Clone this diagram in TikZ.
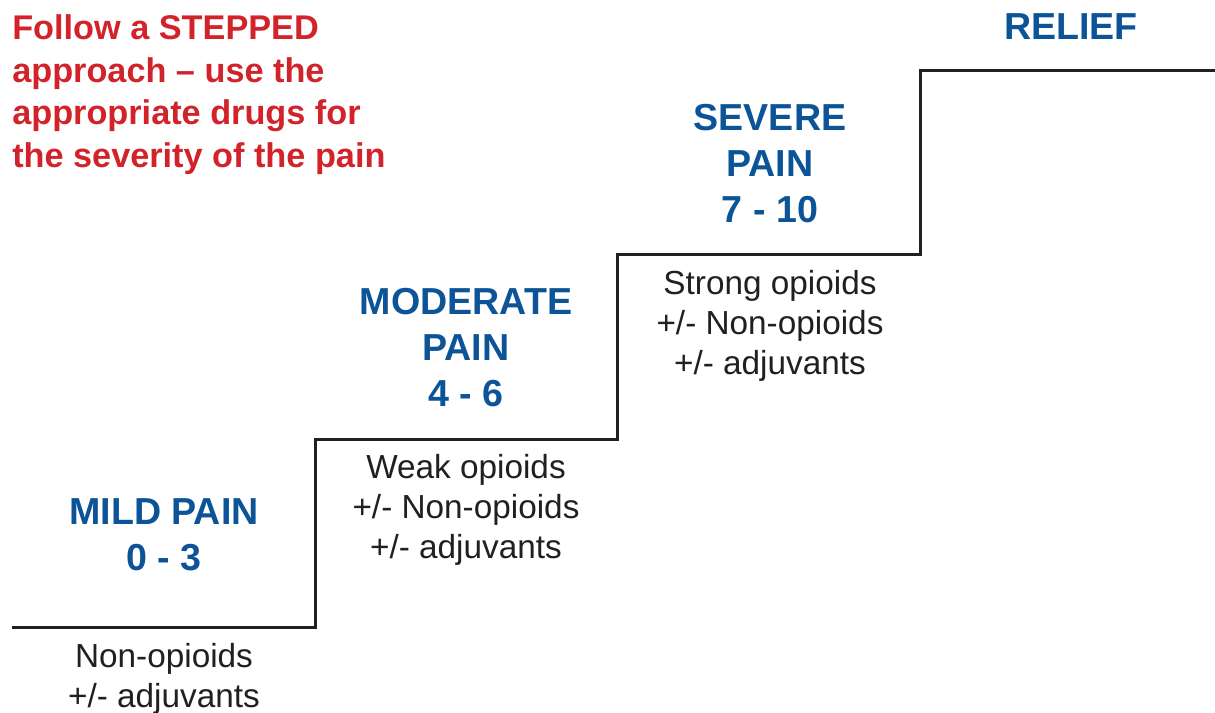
\documentclass[tikz,border=0pt]{standalone}
\usepackage{fontspec}
\setmainfont{Liberation Sans}
\definecolor{stepred}{HTML}{D2232A}
\definecolor{stepblue}{HTML}{0C5497}
\definecolor{stepink}{HTML}{231F20}
\tikzset{
  level/.style={font=\bfseries\fontsize{28.2}{34.5}\selectfont, text=stepblue, align=center, inner sep=0pt},
  drugs/.style={font=\fontsize{25}{30}\selectfont, text=stepink, align=center, inner sep=0pt},
  note/.style={font=\bfseries\fontsize{25.7}{32.2}\selectfont, text=stepred, align=left, inner sep=0pt, anchor=north west},
  stairs/.style={line width=2.25pt, draw=stepink, line join=miter}
}
\begin{document}
\begin{tikzpicture}[x=0.75pt,y=-0.75pt]
\useasboundingbox (0,0) rectangle (1215,713);
\coordinate (s0) at (12,627);
\coordinate (s1) at (315,627);
\coordinate (s2) at (315,439);
\coordinate (s3) at (617,439);
\coordinate (s4) at (617,255);
\coordinate (s5) at (920,255);
\coordinate (s6) at (920,71);
\coordinate (s7) at (1215,71);
\draw[stairs] (s0) -- (s1) -- (s2) -- (s3) -- (s4) -- (s5) -- (s6) -- (s7);

\node[note] (advice) at (12,14) {Follow a STEPPED\\approach -- use the\\appropriate drugs for\\the severity of the pain};

\node[level] (relief) at (1071,27) {RELIEF};
\node[level] (severe) at (770,164) {SEVERE\\PAIN\\7 - 10};
\node[level] (moderate) at (466,348) {MODERATE\\PAIN\\4 - 6};
\node[level] (mild) at (164,535) {MILD PAIN\\0 - 3};

\node[drugs] (strong) at (770,326) {Strong opioids\\+/- Non-opioids\\+/- adjuvants};
\node[drugs] (weak) at (466,510) {Weak opioids\\+/- Non-opioids\\+/- adjuvants};
\node[drugs] (nonop) at (164,679) {Non-opioids\\+/- adjuvants};
\end{tikzpicture}
\end{document}
